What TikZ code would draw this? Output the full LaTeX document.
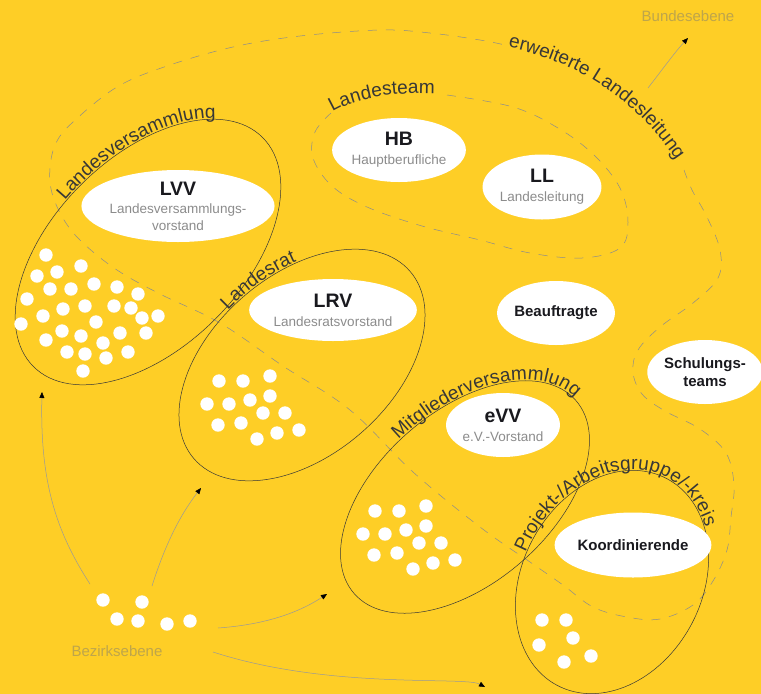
\documentclass[tikz,border=0pt]{standalone}
\usepackage{fontspec}
\setmainfont{Liberation Sans}
\usetikzlibrary{positioning,shapes.geometric,arrows.meta,decorations.text}

\definecolor{bgyellow}{RGB}{254,206,38}
\definecolor{inkgray}{RGB}{55,55,55}
\definecolor{subgray}{RGB}{140,140,140}
\definecolor{titleink}{RGB}{25,25,30}
\definecolor{faintgray}{RGB}{190,165,75}

\newcommand{\titlefont}{\fontsize{19.5}{17}\selectfont\bfseries}
\newcommand{\subfont}{\fontsize{13.5}{17}\selectfont}
\newcommand{\ringfont}{\fontsize{19}{20}\selectfont}
\newcommand{\teamfont}{\fontsize{15}{18}\selectfont\bfseries}

\tikzset{
  blob/.style={ellipse, fill=white, inner sep=0pt, align=center, font=\subfont, text=subgray},
  teamblob/.style={blob, font=\teamfont, text=titleink},
  ring/.style={draw=inkgray, line width=0.5pt},
  dashring/.style={draw=black!45, line width=0.5pt, dash pattern=on 9pt off 9pt},
  ringlabel/.style={decorate, decoration={text along path, raise=1pt, text color=inkgray, text={|\ringfont|#1}}},
  feeder/.style={draw=black!40, line width=0.5pt, -{Triangle[length=6pt,width=5pt,color=black]}},
  faintlabel/.style={text=faintgray, font=\fontsize{15}{16}\selectfont},
  dot/.style={fill=white}
}

% 14er-Punktgruppe (Landesrat, Mitgliederversammlung)
\newcommand{\dotcluster}[2]{%
  \foreach \dx/\dy in {0/0,24/0,51/-5,-12/23,10/23,31/19,51/15,44/32,66/32,-1/44,22/42,58/52,80/49,38/58}
    \fill[dot] (#1+\dx,#2+\dy) circle[radius=6.7pt];}

\begin{document}
\begin{tikzpicture}[x=1pt,y=-1pt]
  \fill[bgyellow] (0,0) rectangle (761,694);
  \useasboundingbox (0,0) rectangle (761,694);

  % erweiterte Landesleitung
  \draw[dashring] plot[smooth, tension=0.6] coordinates {(684,170) (692,190) (707,217) (720,250) (718,278) (693,303) (660,327) (638,350) (633,372) (642,394) (665,411) (700,429) (726,453) (734,485) (731,517) (727,550) (713,581) (693,605) (660,619) (627,617) (593,607) (563,585) (530,562) (480,527) (413,472) (350,410) (283,366) (220,323) (160,294) (117,270) (83,243) (64,220) (52,193) (50,168) (56,143) (73,122) (117,87) (167,66) (233,47) (300,36) (380,30) (430,33) (480,40) (505,45)};
  \path[ringlabel=erweiterte Landesleitung] (508,48) .. controls (580,64) and (640,102) .. (684,174);

  % Landesteam
  \draw[dashring] plot[smooth, tension=0.6] coordinates {(447,95) (513,107) (558,128) (594,155) (620,188) (628,222) (620,248) (582,258) (530,253) (480,240) (422,226) (367,207) (332,186) (313,158) (315,132) (331,113)};
  \path[ringlabel=Landesteam] (333,113) .. controls (360,97) and (405,91) .. (456,96);

  % Landesversammlung
  \begin{scope}[shift={(148,252)}, rotate=45]
    \draw[ring] (0,0) ellipse[x radius=162pt, y radius=95pt];
    \path[ringlabel=Landesversammlung] (98:162pt and 95pt) arc[start angle=98, end angle=-100, x radius=162pt, y radius=95pt];
  \end{scope}

  % Landesrat
  \begin{scope}[shift={(302,365)}, rotate=41]
    \draw[ring] (0,0) ellipse[x radius=143pt, y radius=90pt];
    \path[ringlabel=Landesrat] (98:143pt and 90pt) arc[start angle=98, end angle=-100, x radius=143pt, y radius=90pt];
  \end{scope}

  % Mitgliederversammlung
  \begin{scope}[shift={(465,497)}, rotate=41]
    \draw[ring] (0,0) ellipse[x radius=147pt, y radius=86pt];
    \path[ringlabel=Mitgliederversammlung] (95:147pt and 86pt) arc[start angle=95, end angle=-100, x radius=147pt, y radius=86pt];
  \end{scope}

  % Projekt-/Arbeitsgruppe/-kreis
  \begin{scope}[shift={(612,582)}, rotate=62]
    \draw[ring] (0,0) ellipse[x radius=117pt, y radius=90pt];
    \path[ringlabel=Projekt-/Arbeitsgruppe/-kreis] (97:117pt and 90pt) arc[start angle=97, end angle=-120, x radius=117pt, y radius=90pt];
  \end{scope}

  % Gremien
  \node[blob, minimum width=160pt, minimum height=72pt] (lvv) at (178,206)
    {{\titlefont\color{titleink}LVV}\\[1pt] Landesversammlungs-\\ vorstand};
  \node[blob, minimum width=112pt, minimum height=64pt] (hb) at (399,150)
    {{\titlefont\color{titleink}HB}\\[2pt] Hauptberufliche};
  \node[blob, minimum width=110pt, minimum height=65pt] (ll) at (542,187)
    {{\titlefont\color{titleink}LL}\\[2pt] Landesleitung};
  \node[blob, minimum width=158pt, minimum height=62pt] (lrv) at (333,310)
    {{\titlefont\color{titleink}LRV}\\[2pt] Landesratsvorstand};
  \node[teamblob, minimum width=112pt, minimum height=64pt] (beauf) at (556,313) {Beauftragte};
  \node[teamblob, minimum width=112pt, minimum height=64pt] (schul) at (705,372) {Schulungs-\\teams};
  \node[blob, minimum width=113pt, minimum height=64pt] (evv) at (503,425)
    {{\titlefont\color{titleink}eVV}\\[2pt] e.V.-Vorstand};
  \node[teamblob, minimum width=120pt, minimum height=65pt] (koord) at (633,545) {Koordinierende};

  % Mitglieder
  \foreach \px/\py in {46/255,81/266,37/276,57/272,94/284,117/287,138/294,50/289,71/289,27/299,63/309,85/306,114/306,131/308,142/318,158/316,43/316,21/324,96/322,62/331,81/336,120/333,146/333,46/340,103/343,67/352,85/354,106/358,128/352,83/371}
    \fill[dot] (\px,\py) circle[radius=6.7pt];
  \dotcluster{219}{381}
  \dotcluster{375}{511}
  \foreach \px/\py in {542/620,566/620,573/638,539/645,591/656,564/662}
    \fill[dot] (\px,\py) circle[radius=6.7pt];
  \foreach \px/\py in {103/600,142/602,117/619,138/621,167/624,190/621}
    \fill[dot] (\px,\py) circle[radius=6.7pt];

  % Ebenen
  \node[faintlabel] (bund) at (688,16) {Bundesebene};
  \node[faintlabel] (bezirk) at (117,651) {Bezirksebene};

  \coordinate (bz lvs) at (90,584);
  \coordinate (bz lr) at (152,586);
  \coordinate (bz mv) at (218,628);
  \coordinate (bz ag) at (213,652);
  \coordinate (lvs in) at (42,392);
  \coordinate (lr in) at (201,488);
  \coordinate (mv in) at (327,594);
  \coordinate (ag in) at (485,687);
  \coordinate (erw out) at (648,88);
  \coordinate (bund in) at (688,38);

  \draw[feeder] (bz lvs) .. controls (55,530) and (40,480) .. (lvs in);
  \draw[feeder] (bz lr) .. controls (165,545) and (180,515) .. (lr in);
  \draw[feeder] (bz mv) .. controls (260,625) and (295,615) .. (mv in);
  \draw[feeder] (bz ag) .. controls (330,690) and (465,676) .. (ag in);
  \draw[feeder] (erw out) .. controls (662,70) and (675,52) .. (bund in);
\end{tikzpicture}
\end{document}
